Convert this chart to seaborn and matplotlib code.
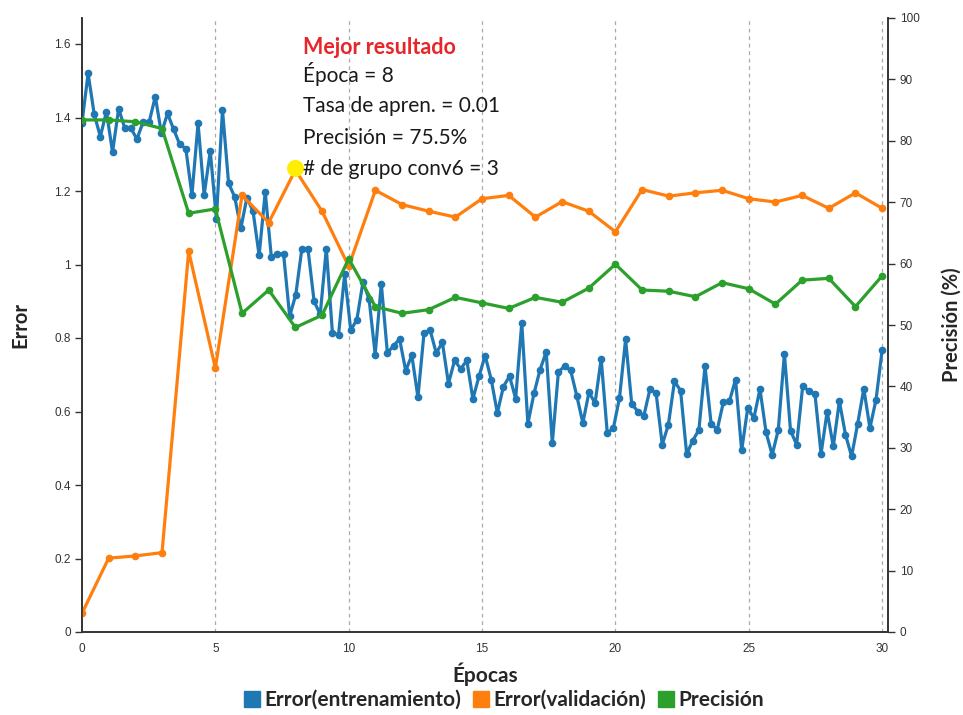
import numpy as np
import pandas as pd
import matplotlib
matplotlib.use("Agg")
import matplotlib.pyplot as plt
from matplotlib.lines import Line2D
import seaborn as sns

# ---------------- data ----------------
epochs = list(range(31))
val_error = [0.051, 0.201, 0.207, 0.216, 1.036, 0.718, 1.188, 1.114, 1.257, 1.145,
             0.995, 1.202, 1.163, 1.145, 1.129, 1.179, 1.188, 1.129, 1.171, 1.145,
             1.089, 1.204, 1.186, 1.195, 1.202, 1.179, 1.170, 1.188, 1.153, 1.195, 1.153]
precision = [83.4, 83.4, 83.1, 82.0, 68.2, 68.9, 51.9, 55.7, 49.6, 51.6,
             60.8, 53.0, 51.9, 52.5, 54.5, 53.6, 52.7, 54.5, 53.7, 56.0,
             59.9, 55.7, 55.5, 54.6, 56.9, 55.9, 53.4, 57.3, 57.6, 53.0, 58.0]
train_error = [
    1.386, 1.520, 1.409, 1.348, 1.416, 1.306, 1.424, 1.371, 1.371, 1.341, 1.388, 1.388,
    1.457, 1.357, 1.411, 1.368, 1.327, 1.315, 1.189, 1.384, 1.189, 1.309, 1.124, 1.420,
    1.221, 1.184, 1.098, 1.182, 1.145, 1.025, 1.197, 1.020, 1.029, 1.029, 0.859, 0.918,
    1.043, 1.041, 0.900, 0.864, 1.043, 0.814, 0.809, 0.973, 0.821, 0.850,
    0.952, 0.906, 0.755, 0.948, 0.759, 0.779, 0.797, 0.711, 0.753, 0.639, 0.814, 0.821,
    0.759, 0.788, 0.676, 0.739, 0.716, 0.739, 0.634, 0.696, 0.752,
    0.687, 0.596, 0.668, 0.696, 0.635, 0.841, 0.567, 0.649, 0.714, 0.762, 0.514, 0.708,
    0.723, 0.712, 0.643, 0.569, 0.652, 0.623, 0.743, 0.541, 0.555, 0.637,
    0.796, 0.621, 0.600, 0.589, 0.662, 0.649, 0.510, 0.564, 0.682, 0.657, 0.484, 0.521,
    0.550, 0.723, 0.567, 0.550, 0.625, 0.628, 0.687, 0.494,
    0.610, 0.582, 0.661, 0.543, 0.482, 0.550, 0.757, 0.548, 0.510, 0.670, 0.655, 0.648,
    0.485, 0.600, 0.505, 0.628, 0.537, 0.478, 0.567, 0.662, 0.555, 0.632, 0.767]
train_steps = np.linspace(0, 30, len(train_error))

best_epoch = 8
best_precision = 75.5
annot_title = "Mejor resultado"
annot_lines = ["Época = 8", "Tasa de apren. = 0.01", "Precisión = 75.5%", "# de grupo conv6 = 3"]
legend_labels = ["Error(entrenamiento)", "Error(validación)", "Precisión"]
left_ticks = [0, 0.2, 0.4, 0.6, 0.8, 1.0, 1.2, 1.4, 1.6]
right_ticks = list(range(0, 101, 10))
x_ticks = [0, 5, 10, 15, 20, 25, 30]

c_blue, c_orange, c_green = "#1f77b4", "#ff7f0e", "#2ca02c"

# ---------------- style ----------------
sns.set_style("white")
plt.rcParams['font.family'] = ['Lato', 'DejaVu Sans']

fig = plt.figure(figsize=(9.63, 7.15), dpi=100)
ax = fig.add_axes([82/963, 1-632/715, (888-82)/963, (632-18)/715])
ax2 = ax.twinx()

df_train = pd.DataFrame({"x": train_steps, "y": train_error})
df_val = pd.DataFrame({"x": epochs, "y": val_error})
df_prec = pd.DataFrame({"x": epochs, "y": precision})

kw = dict(linewidth=2.3, marker="o", markersize=5.5, markeredgewidth=0, legend=False)
sns.lineplot(data=df_train, x="x", y="y", ax=ax, color=c_blue, zorder=3, **kw)
sns.lineplot(data=df_val, x="x", y="y", ax=ax, color=c_orange, zorder=4, **kw)
sns.lineplot(data=df_prec, x="x", y="y", ax=ax2, color=c_green, zorder=3, **kw)
ax2.scatter([best_epoch], [best_precision], s=150, color="#ffee00", zorder=6, linewidths=0)

ax.set_xlim(0, 30.22)
ax.set_ylim(0, (632-18)/367.5)
ax2.set_ylim(0, 100)

for xv in x_ticks[1:]:
    ax.axvline(xv, color="#aaaaaa", linestyle=(0, (3, 3)), linewidth=0.9, zorder=0)

ax.set_xticks(x_ticks)
ax.set_xticklabels([str(v) for v in x_ticks])
ax.set_yticks(left_ticks)
ax.set_yticklabels([f"{v:g}" for v in left_ticks])
ax2.set_yticks(right_ticks)
ax2.set_yticklabels([str(v) for v in right_ticks])

for a in (ax, ax2):
    a.tick_params(axis="both", which="major", length=5, width=1, color="#333333",
                  labelsize=8.5, labelcolor="#333333", direction="out")
    for lab in a.get_xticklabels() + a.get_yticklabels():
        lab.set_family(['Liberation Sans Narrow', 'Liberation Sans', 'DejaVu Sans'])
ax.tick_params(axis="x", pad=3)
ax.tick_params(axis="y", pad=3, left=True)
ax2.tick_params(axis="y", right=True)

for a in (ax, ax2):
    a.spines["top"].set_visible(False)
    for s in ("left", "right", "bottom"):
        a.spines[s].set_color("#333333")
        a.spines[s].set_linewidth(1.2)

ax.set_xlabel("Épocas", fontsize=15, fontweight="bold")
ax.set_ylabel("Error", fontsize=14.5, fontweight="bold")
ax2.set_ylabel("Precisión (%)", fontsize=14.5, fontweight="bold")
ax.xaxis.set_label_coords(0.5, -0.050)
ax.yaxis.set_label_coords(-0.064, 0.5)
ax2.yaxis.set_label_coords(1.066, 0.5)

# annotation
fig.text(303/963, 1-47/715, annot_title, color="#e8262a", fontsize=15.5, fontweight="bold",
         va="center", ha="left")
for i, line in enumerate(annot_lines):
    fig.text(303/963, 1-(74 + i*31.8)/715, line, color="#1a1a1a", fontsize=15,
             va="center", ha="left")

handles = [Line2D([], [], marker="s", linestyle="none", markersize=11, color=c)
           for c in (c_blue, c_orange, c_green)]
leg = fig.legend(handles, legend_labels, loc="center", bbox_to_anchor=(503/963, 1-700/715),
                 ncol=3, frameon=False, prop={"weight": "bold", "size": 15},
                 handletextpad=0.15, columnspacing=0.5, handlelength=0.9)

fig.savefig("out.png", dpi=100)
